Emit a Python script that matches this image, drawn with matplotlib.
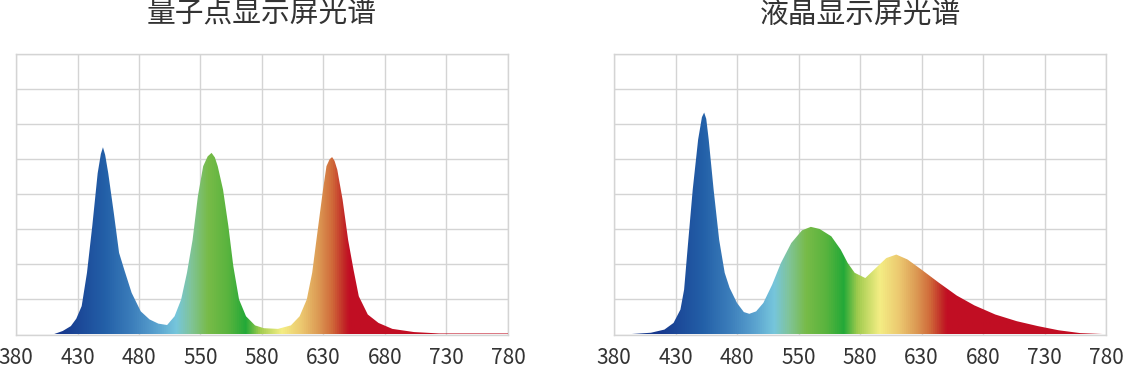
import numpy as np
import matplotlib
matplotlib.use("Agg")
import matplotlib.pyplot as plt
from matplotlib.colors import LinearSegmentedColormap

plt.rcParams['font.family'] = ['Noto Sans CJK SC', 'DejaVu Sans']

# axis tick wavelengths (evenly spaced on the chart, though not in nm)
tick_nm = [380, 430, 480, 550, 580, 630, 680, 730, 780]

# quantum dot display spectrum (nm, relative intensity)
qd_nm = [380, 410, 418, 424.6, 429, 433.4, 437.7, 442, 446.4, 449, 450.7, 452.5, 455,
         459.5, 463.8, 468, 474, 482, 492, 502, 512, 520.5, 528, 534.6, 541, 547,
         551.3, 553.5, 555.4, 557, 558.4, 561, 563.6, 566, 568.8, 572.2, 576.6, 581.5,
         593, 603.5, 610.6, 616.4, 620.8, 625, 629.6, 632.4, 635, 637, 639, 641.2,
         645.5, 650, 654.4, 658.7, 666, 674.7, 686, 703.5, 724, 780]
qd_val = [0, 0, 0.1, 0.24, 0.45, 0.81, 1.76, 3.09, 4.6, 5.15, 5.34, 5.12, 4.6,
          3.47, 2.33, 1.85, 1.19, 0.66, 0.43, 0.31, 0.27, 0.52, 1.0, 1.76, 2.7, 3.94,
          4.8, 5.08, 5.18, 5.05, 4.8, 4.13, 3.09, 1.95, 1.0, 0.52, 0.26, 0.18,
          0.16, 0.26, 0.52, 1.0, 1.76, 2.9, 4.13, 4.8, 5.0, 5.06, 4.95, 4.7,
          3.85, 2.7, 1.85, 1.09, 0.57, 0.33, 0.16, 0.07, 0.03, 0.03]

# LCD spectrum
lcd_nm = [380, 392.6, 410, 421, 428.4, 434, 437, 440, 444, 448.4, 451.5, 453.3, 455,
          457, 461, 465.5, 470, 474, 480, 487.8, 494, 501.8, 510, 520, 530, 541.8,
          551.7, 556, 560.3, 566, 570.6, 574, 577.4, 584.3, 593, 601.4, 609.5, 618.6,
          630, 644.4, 658.7, 673, 690, 707.4, 724.5, 741.6, 759, 780]
lcd_val = [0, 0.01, 0.05, 0.14, 0.33, 0.71, 1.28, 2.52, 4.13, 5.56, 6.2, 6.33, 6.15,
           5.56, 4.13, 2.7, 1.76, 1.33, 0.9, 0.64, 0.59, 0.66, 0.9, 1.42, 2.04, 2.61,
           2.97, 3.07, 3.01, 2.8, 2.42, 2.04, 1.76, 1.61, 1.9, 2.18, 2.28, 2.14,
           1.85, 1.47, 1.11, 0.83, 0.57, 0.38, 0.24, 0.12, 0.04, 0.01]

titles = ["量子点显示屏光谱", "液晶显示屏光谱"]

# colour stops along the axis (fraction of width)
stops = [(0.0, "#1a3f95"), (0.09, "#17388d"), (0.18, "#2360a8"), (0.235, "#3c7ebb"),
         (0.285, "#5aa2cf"), (0.325, "#76c6dc"), (0.355, "#80c49a"), (0.39, "#78bb48"),
         (0.43, "#5ab43e"), (0.467, "#23a938"), (0.495, "#a0cb4e"), (0.54, "#f4ee84"),
         (0.58, "#ecc870"), (0.615, "#dc9a54"), (0.643, "#d06a3a"), (0.667, "#c22a27"),
         (0.677, "#c10f24"), (1.0, "#c10e23")]
cmap = LinearSegmentedColormap.from_list("spec", stops)


def fwd(x):
    return np.interp(x, tick_nm, np.arange(len(tick_nm)))


def inv(x):
    return np.interp(x, np.arange(len(tick_nm)), tick_nm)


W, H = 1132, 372
fig = plt.figure(figsize=(W / 100, H / 100), dpi=100)
axes = [fig.add_axes([16 / W, 37.5 / H, 492 / W, 280.5 / H]),
        fig.add_axes([614 / W, 37.5 / H, 492 / W, 280.5 / H])]
title_x = [262, 860]

for ax, xs, ys, t, tx in zip(axes, [qd_nm, lcd_nm], [qd_val, lcd_val], titles, title_x):
    ax.set_xscale('function', functions=(fwd, inv))
    ax.set_xlim(380, 780)
    ax.set_ylim(0, 8)
    ax.set_xticks(tick_nm)
    ax.set_xticklabels([str(v) for v in tick_nm])
    ax.set_yticks(range(9))
    ax.set_yticklabels([])
    ax.minorticks_off()
    ax.tick_params(length=0, pad=9, labelsize=15, labelcolor="#333333")
    ax.grid(True, color="#d4d4d4", linewidth=1)
    ax.set_axisbelow(True)
    for s in ax.spines.values():
        s.set_color("#d4d4d4")
        s.set_linewidth(1)

    poly = ax.fill_between(xs, ys, 0, color="none", linewidth=0)
    grad = np.linspace(0, 1, 512).reshape(1, -1)
    img = ax.imshow(grad, cmap=cmap, aspect="auto", extent=[0, 1, 0, 1],
                    transform=ax.transAxes, zorder=3, interpolation="bilinear")
    img.set_clip_path(poly.get_paths()[0], transform=ax.transData)

    fig.text(tx / W, 1 - 15 / H, t, ha="center", va="center",
             fontsize=20.7, color="#333333")

fig.savefig("out.png", dpi=100)
